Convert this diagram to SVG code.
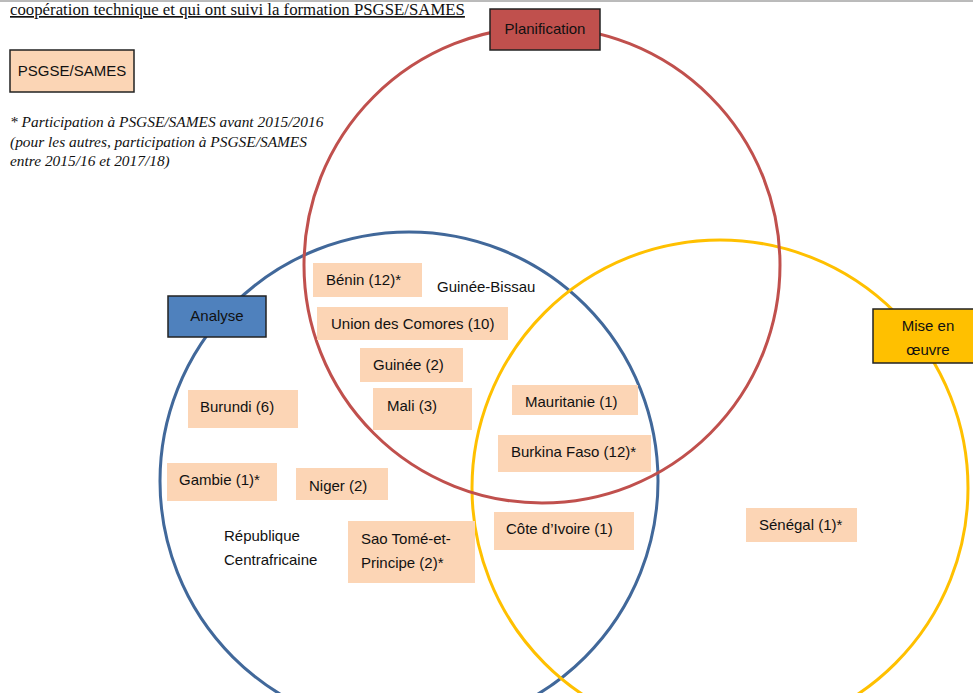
<svg xmlns="http://www.w3.org/2000/svg" width="973" height="693" viewBox="0 0 973 693">
<style>
.c{fill:none;stroke-width:3}
.lbl{stroke:#222;stroke-width:1.5}
.box{fill:#fcd5b5}
.t{font-family:"Liberation Sans","DejaVu Sans",sans-serif;font-size:15px;fill:#111}
.m{text-anchor:middle}
.s{font-family:"Liberation Serif","DejaVu Serif",serif;fill:#111}
</style>
<rect width="973" height="693" fill="#fff"/>
<line x1="0" y1="1" x2="973" y2="1" stroke="#777" stroke-width="1"/>
<text class="s" x="10" y="15" font-size="16.8" text-decoration="underline">coopération technique et qui ont suivi la formation PSGSE/SAMES</text>
<g id="legend">
<rect class="lbl" x="10" y="50" width="124" height="42" fill="#fbd5b5"/>
<text class="t m" x="72" y="76">PSGSE/SAMES</text>
</g>
<g id="note" class="s" font-style="italic" font-size="15.4">
<text x="10" y="127">* Participation à PSGSE/SAMES avant 2015/2016</text>
<text x="10" y="147">(pour les autres, participation à PSGSE/SAMES</text>
<text x="10" y="166">entre 2015/16 et 2017/18)</text>
</g>
<g id="circles">
<circle class="c" cx="409" cy="481" r="249" stroke="#41689a"/>
<circle class="c" cx="720" cy="488" r="248" stroke="#ffc000"/>
<circle class="c" cx="542" cy="265" r="238" stroke="#c0504d"/>
</g>
<g id="planification"><rect class="lbl" x="490" y="9" width="110" height="41" fill="#c0504d"/><text class="t m" x="545" y="34">Planification</text></g>
<g id="analyse"><rect class="lbl" x="168" y="296" width="98" height="41" fill="#4f81bd"/><text class="t m" x="217" y="321">Analyse</text></g>
<g id="mise"><rect class="lbl" x="873" y="309" width="102" height="54" fill="#ffc000"/><text class="t m" x="928" y="331">Mise en</text><text class="t m" x="928" y="355">œuvre</text></g>
<g id="benin"><rect class="box" x="313" y="263" width="109" height="34"/><text class="t" x="326" y="285">Bénin (12)*</text></g>
<g id="guinee-bissau"><text class="t" x="437" y="292">Guinée-Bissau</text></g>
<g id="comores"><rect class="box" x="317" y="307" width="191" height="33"/><text class="t" x="331" y="329">Union des Comores (10)</text></g>
<g id="guinee"><rect class="box" x="360" y="348" width="103" height="34"/><text class="t" x="373" y="370">Guinée (2)</text></g>
<g id="mali"><rect class="box" x="373" y="388" width="99" height="42"/><text class="t" x="387" y="411">Mali (3)</text></g>
<g id="burundi"><rect class="box" x="188" y="390" width="110" height="38"/><text class="t" x="200" y="412">Burundi (6)</text></g>
<g id="gambie"><rect class="box" x="167" y="463" width="110" height="38"/><text class="t" x="179" y="485">Gambie (1)*</text></g>
<g id="niger"><rect class="box" x="296" y="468" width="92" height="32"/><text class="t" x="309" y="491">Niger (2)</text></g>
<g id="rca"><text class="t" x="224" y="541">République</text><text class="t" x="224" y="565">Centrafricaine</text></g>
<g id="saotome"><rect class="box" x="348" y="521" width="127" height="62"/><text class="t" x="361" y="544">Sao Tomé-et-</text><text class="t" x="361" y="568">Principe (2)*</text></g>
<g id="mauritanie"><rect class="box" x="512" y="385" width="126" height="30"/><text class="t" x="525" y="407">Mauritanie (1)</text></g>
<g id="burkina"><rect class="box" x="498" y="435" width="153" height="37"/><text class="t" x="511" y="457">Burkina Faso (12)*</text></g>
<g id="cote"><rect class="box" x="494" y="512" width="140" height="38"/><text class="t" x="506" y="534">Côte d’Ivoire (1)</text></g>
<g id="senegal"><rect class="box" x="746" y="508" width="111" height="34"/><text class="t" x="759" y="530">Sénégal (1)*</text></g>
</svg>
